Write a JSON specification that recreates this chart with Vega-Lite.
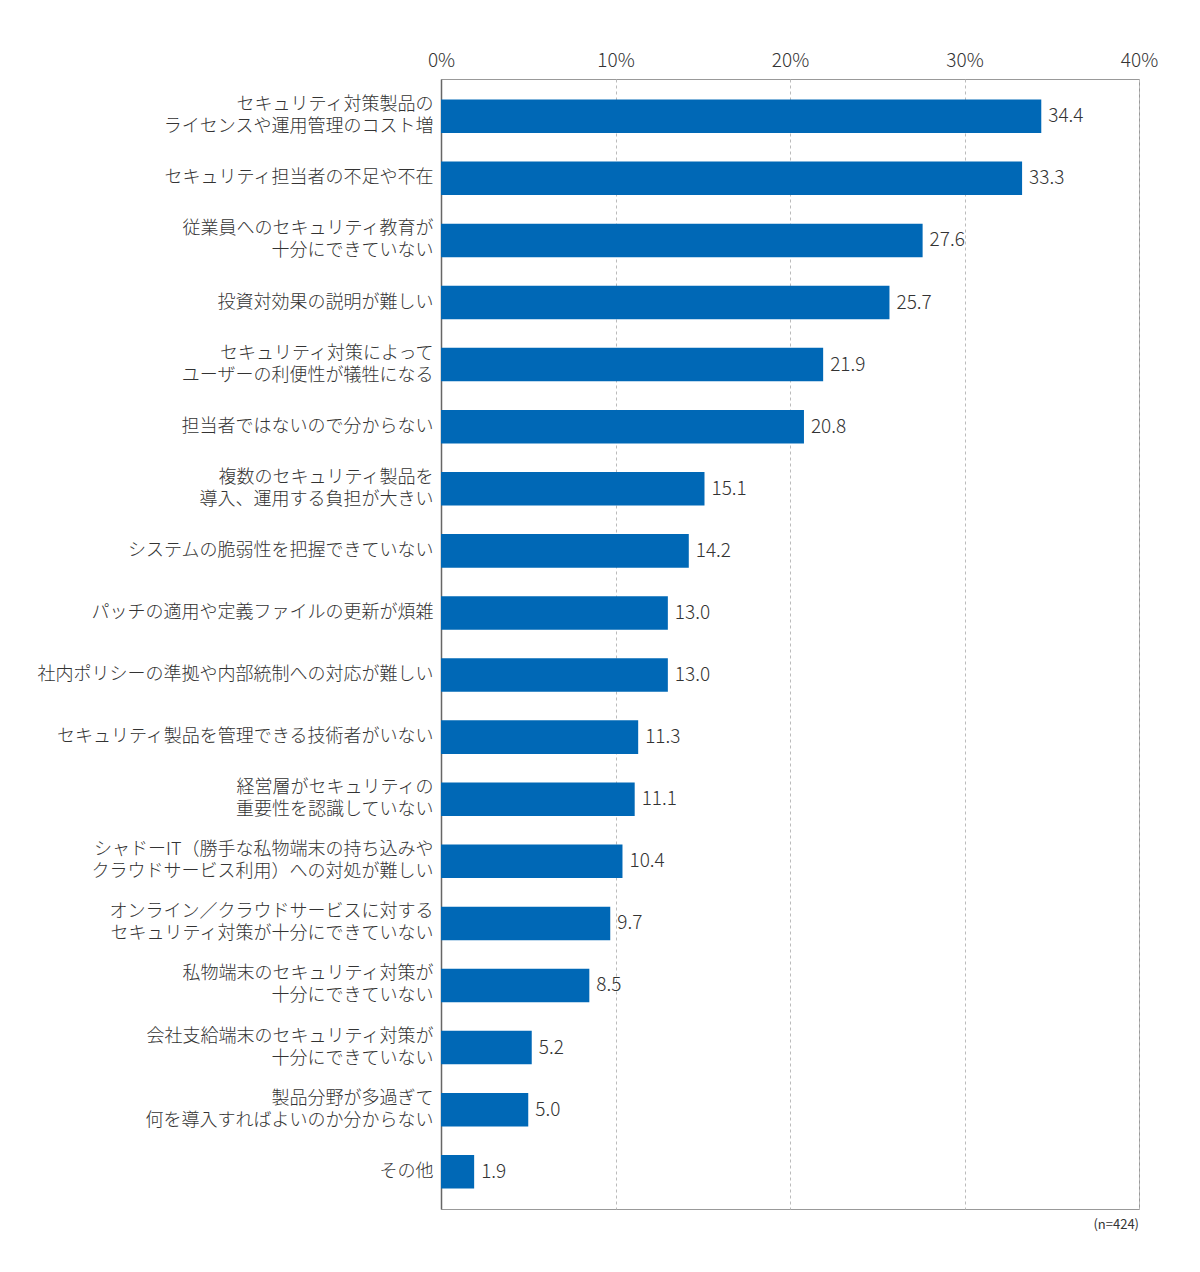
{
  "$schema": "https://vega.github.io/schema/vega-lite/v6.json",
  "autosize": {"type": "none"},
  "padding": {"left": 441, "top": 79, "right": 61, "bottom": 63},
  "width": 698,
  "height": 1130,
  "background": "white",
  "title": {
    "text": "(n=424)",
    "orient": "bottom",
    "anchor": "end",
    "frame": "group",
    "fontSize": 13,
    "fontWeight": "normal",
    "color": "#333333",
    "offset": 10
  },
  "data": {
    "values": [
      {"item": "セキュリティ対策製品の\nライセンスや運用管理のコスト増", "pct": 34.4},
      {"item": "セキュリティ担当者の不足や不在", "pct": 33.3},
      {"item": "従業員へのセキュリティ教育が\n十分にできていない", "pct": 27.6},
      {"item": "投資対効果の説明が難しい", "pct": 25.7},
      {"item": "セキュリティ対策によって\nユーザーの利便性が犠牲になる", "pct": 21.9},
      {"item": "担当者ではないので分からない", "pct": 20.8},
      {"item": "複数のセキュリティ製品を\n導入、運用する負担が大きい", "pct": 15.1},
      {"item": "システムの脆弱性を把握できていない", "pct": 14.2},
      {"item": "パッチの適用や定義ファイルの更新が煩雑", "pct": 13.0},
      {"item": "社内ポリシーの準拠や内部統制への対応が難しい", "pct": 13.0},
      {"item": "セキュリティ製品を管理できる技術者がいない", "pct": 11.3},
      {"item": "経営層がセキュリティの\n重要性を認識していない", "pct": 11.1},
      {"item": "シャドーIT（勝手な私物端末の持ち込みや\nクラウドサービス利用）への対処が難しい", "pct": 10.4},
      {"item": "オンライン／クラウドサービスに対する\nセキュリティ対策が十分にできていない", "pct": 9.7},
      {"item": "私物端末のセキュリティ対策が\n十分にできていない", "pct": 8.5},
      {"item": "会社支給端末のセキュリティ対策が\n十分にできていない", "pct": 5.2},
      {"item": "製品分野が多過ぎて\n何を導入すればよいのか分からない", "pct": 5.0},
      {"item": "その他", "pct": 1.9}
    ]
  },
  "encoding": {
    "y": {
      "field": "item",
      "type": "nominal",
      "sort": null,
      "title": null,
      "scale": {"paddingInner": 0.46, "paddingOuter": 0.33},
      "axis": {
        "labelExpr": "split(datum.label, '\\n')",
        "labelFontSize": 18,
        "labelFontWeight": 300,
        "labelLineHeight": 22,
        "labelColor": "#333333",
        "labelPadding": 8,
        "labelLimit": 0,
        "labelOffset": {
          "condition": {"test": "indexof(datum.value, '\\n') >= 0", "value": -11},
          "value": 0
        },
        "ticks": false,
        "domainColor": "#666666",
        "domainWidth": 1.5
      }
    },
    "x": {
      "field": "pct",
      "type": "quantitative",
      "title": null,
      "scale": {"domain": [0, 40]},
      "axis": {
        "orient": "top",
        "values": [0, 10, 20, 30, 40],
        "labelExpr": "datum.value + '%'",
        "labelFontSize": 19,
        "labelFontWeight": 300,
        "labelFlush": false,
        "labelColor": "#333333",
        "labelPadding": 9,
        "ticks": false,
        "domain": false,
        "grid": true,
        "gridDash": [3, 3],
        "gridColor": "#bbbbbb"
      }
    }
  },
  "layer": [
    {
      "mark": {"type": "bar", "color": "#0068b6"}
    },
    {
      "mark": {
        "type": "text",
        "align": "left",
        "baseline": "middle",
        "dx": 7,
        "fontSize": 19,
        "fontWeight": 300,
        "color": "#333333"
      },
      "encoding": {
        "text": {"field": "pct", "type": "quantitative", "format": ".1f"}
      }
    }
  ],
  "config": {
    "font": "Noto Sans CJK JP",
    "view": {"stroke": "#999999"},
    "axis": {"labelFont": "Noto Sans CJK JP"},
    "text": {"font": "Noto Sans CJK JP"}
  }
}
